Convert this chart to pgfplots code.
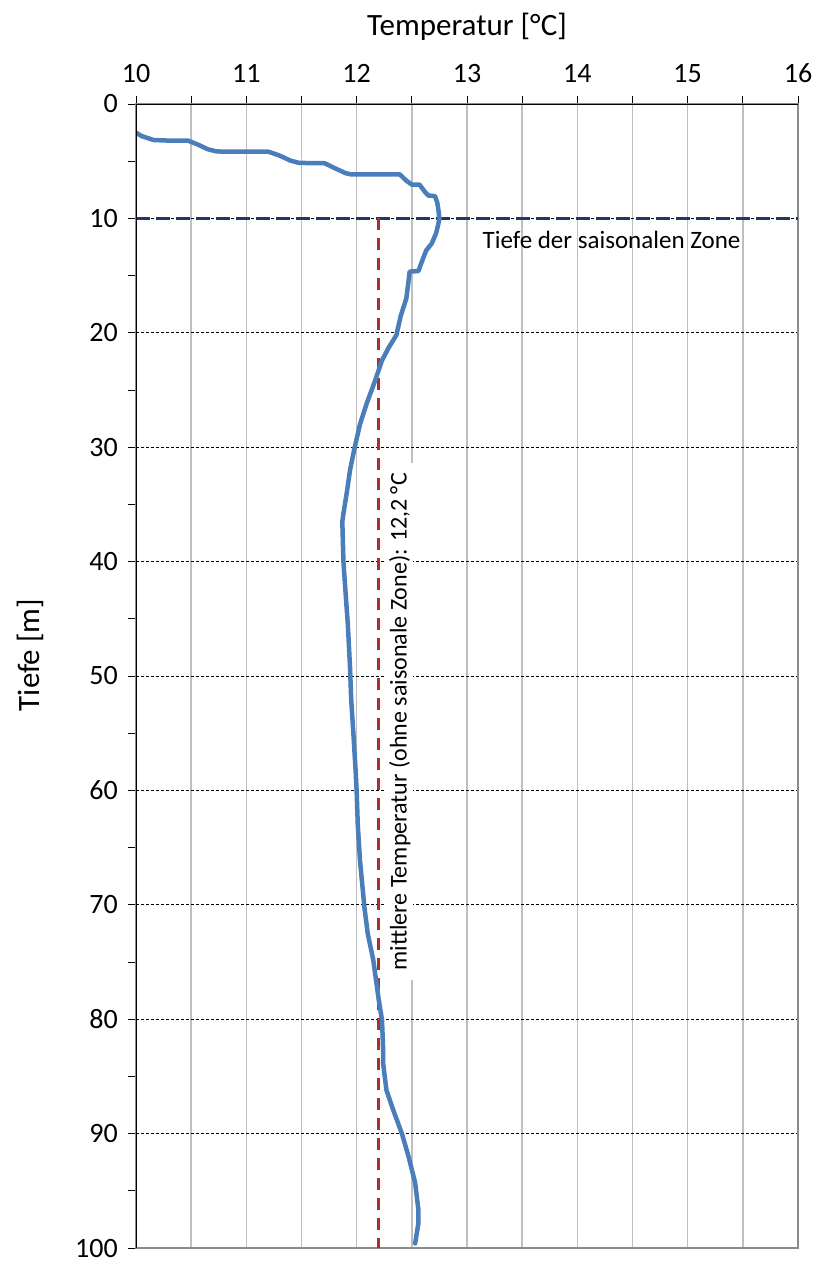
\documentclass[border=0pt]{standalone}
\usepackage{fontspec}
\setmainfont{Carlito}
\usepackage{pgfplots}
\pgfplotsset{compat=1.18}
\definecolor{curveblue}{HTML}{4A7EBB}
\definecolor{zoneblue}{HTML}{1F3864}
\definecolor{meanred}{HTML}{A5302D}
\definecolor{gridgray}{HTML}{BFBFBF}
\definecolor{axgray}{HTML}{8C8C8C}
\pgfplotstableread{
T d
10.00 2.5
10.05 2.8
10.16 3.15
10.30 3.2
10.47 3.2
10.55 3.5
10.65 3.95
10.73 4.15
11.00 4.17
11.20 4.17
11.30 4.5
11.40 4.95
11.48 5.15
11.71 5.18
11.80 5.6
11.90 6.05
11.95 6.15
12.39 6.15
12.45 6.7
12.50 7.05
12.57 7.05
12.62 7.7
12.65 8.0
12.71 8.05
12.73 8.6
12.74 9.2
12.75 10.0
12.74 10.5
12.72 11.3
12.68 12.2
12.63 12.8
12.59 13.8
12.56 14.6
12.48 14.65
12.47 15.5
12.45 17.0
12.40 18.5
12.36 20.2
12.29 21.3
12.23 22.4
12.17 24.1
12.09 26.2
12.03 28.0
11.98 30.1
11.94 32.0
11.91 34.0
11.88 35.8
11.87 36.5
11.88 40.0
11.90 42.8
11.92 45.5
11.94 49.3
11.95 52.0
11.97 55.0
11.99 58.2
12.00 60.1
12.01 63.0
12.03 66.1
12.07 70.2
12.10 72.5
12.15 74.8
12.20 78.3
12.23 80.1
12.24 82.7
12.24 83.9
12.27 86.2
12.33 87.9
12.41 90.0
12.47 92.0
12.53 94.3
12.56 96.7
12.56 97.8
12.53 99.6
}\profile
\begin{document}
\begin{tikzpicture}[x=1pt,y=1pt]
\useasboundingbox (0,0) rectangle (816,1261);
\begin{axis}[
  at={(136pt,1157pt)}, anchor=north west,
  width=662pt, height=1144pt, scale only axis,
  xmin=10, xmax=16, ymin=0, ymax=100, y dir=reverse,
  xtick={10,11,...,16}, ytick={0,10,...,100},
  minor x tick num=1, minor y tick num=1,
  xtick pos=right, xticklabel pos=right, ytick pos=left,
  tick align=outside,
  major tick length=8pt, minor tick length=8pt,
  every tick/.style={black, line width=1pt},
  xmajorgrids, xminorgrids, ymajorgrids,
  major x grid style={gridgray, line width=1.5pt},
  minor x grid style={gridgray, line width=1.5pt},
  major y grid style={black, line width=0.8pt, dash pattern=on 3pt off 2pt},
  axis line style={axgray, line width=2.5pt},
  tick label style={font=\fontsize{28}{32}\selectfont},
  xticklabel style={yshift=10pt},
  yticklabel style={inner sep=1pt, xshift=-9pt},
  /pgf/number format/assume math mode=true,
]
\draw[zoneblue, line width=3pt, dash pattern=on 14pt off 6pt] (axis cs:10,10) -- (axis cs:16,10);
\draw[meanred, line width=3pt, dash pattern=on 12pt off 8pt] (axis cs:12.2,10) -- (axis cs:12.2,100);
\addplot[curveblue, line width=4.5pt, line join=round, line cap=round] table[x=T, y=d] {\profile};
\node[font=\fontsize{25}{30}\selectfont] at (axis cs:14.31,11.9) {Tiefe der saisonalen Zone};
\node[rotate=90, fill=white, inner xsep=10pt, inner ysep=3pt, font=\fontsize{24}{28}\selectfont] at (axis cs:12.39,54.0) {mittlere Temperatur (ohne saisonale Zone): 12,2 °C};
\draw[black, line width=1.5pt] (axis cs:10,100) -- (axis cs:10,0) -- (axis cs:16,0);
\end{axis}
\node[font=\fontsize{31}{36}\selectfont] at (467,1234) {Temperatur [°C]};
\node[rotate=90, font=\fontsize{31}{36}\selectfont] at (30,606) {Tiefe [m]};
\end{tikzpicture}
\end{document}
